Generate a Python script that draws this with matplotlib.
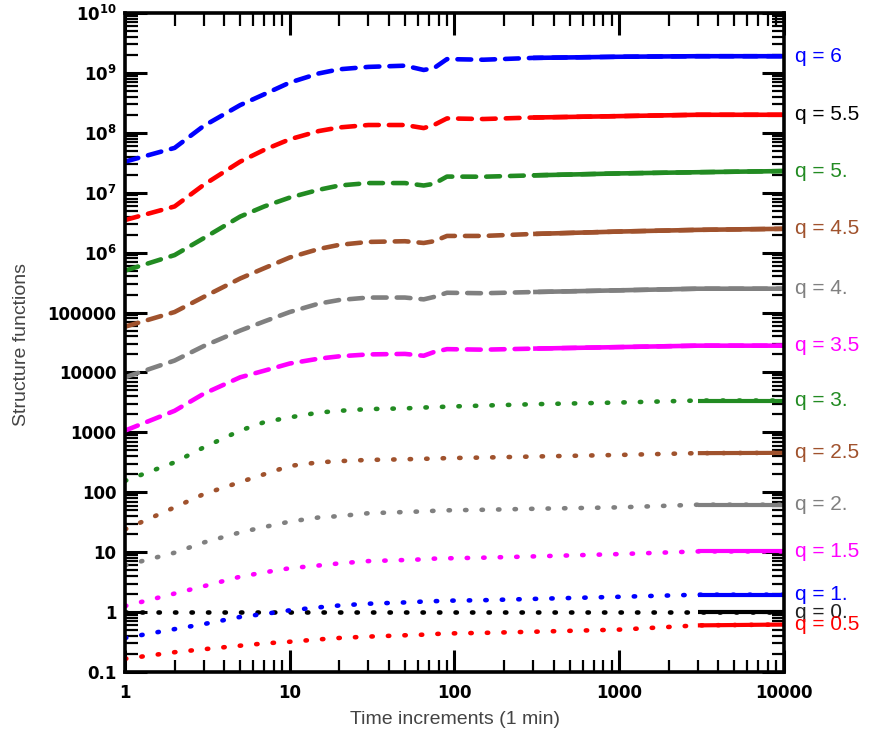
import matplotlib
matplotlib.use("Agg")
import matplotlib.pyplot as plt
import matplotlib.transforms as mtransforms
from matplotlib.ticker import FixedLocator, LogLocator, NullFormatter

lags = [1, 2, 3, 5, 7, 10, 15, 20, 30, 50, 65, 75, 90, 150, 300, 1000, 3000, 10000]

# structure functions, one list per q
s_q6 = [3.3e7, 5.6e7, 1.3e8, 2.9e8, 4.4e8, 6.9e8, 9.8e8, 1.15e9, 1.26e9, 1.32e9,
        1.12e9, 1.2e9, 1.7e9, 1.66e9, 1.78e9, 1.86e9, 1.9e9, 1.9e9]
s_q55 = [3.5e6, 5.9e6, 1.35e7, 3.3e7, 5.2e7, 7.8e7, 1.07e8, 1.23e8, 1.35e8, 1.35e8,
         1.2e8, 1.35e8, 1.74e8, 1.7e8, 1.8e8, 1.9e8, 2.0e8, 2.0e8]
s_q5 = [5.0e5, 9.1e5, 1.74e6, 4.0e6, 5.9e6, 8.3e6, 1.12e7, 1.32e7, 1.45e7, 1.45e7,
        1.32e7, 1.41e7, 1.86e7, 1.85e7, 1.95e7, 2.1e7, 2.2e7, 2.3e7]
s_q45 = [5.8e4, 1.02e5, 1.82e5, 3.7e5, 5.5e5, 8.3e5, 1.15e6, 1.35e6, 1.51e6, 1.55e6,
         1.45e6, 1.55e6, 1.9e6, 1.9e6, 2.05e6, 2.25e6, 2.4e6, 2.5e6]
s_q4 = [8.3e3, 1.58e4, 2.75e4, 5.0e4, 7.1e4, 1.02e5, 1.41e5, 1.62e5, 1.78e5, 1.78e5,
        1.66e5, 1.82e5, 2.14e5, 2.1e5, 2.2e5, 2.35e5, 2.5e5, 2.5e5]
s_q35 = [1070, 2290, 4400, 8300, 1.07e4, 1.41e4, 1.7e4, 1.86e4, 2.0e4, 2.04e4,
         1.9e4, 2.19e4, 2.45e4, 2.4e4, 2.5e4, 2.65e4, 2.8e4, 2.8e4]
s_q3 = [155, 316, 560, 1070, 1480, 1780, 2140, 2290, 2450, 2510,
        2600, 2630, 2690, 2800, 2950, 3150, 3400, 3400]
s_q25 = [24, 56, 93, 148, 200, 275, 316, 331, 347, 355,
         363, 363, 372, 380, 395, 420, 450, 455]
s_q2 = [6.0, 9.8, 14.5, 21.4, 26.3, 32.4, 38, 40, 44.7, 46.8,
        48, 49, 50, 51, 53, 56, 62, 62]
s_q15 = [1.26, 2.04, 2.7, 3.9, 4.6, 5.4, 6.0, 6.5, 7.1, 7.4,
         7.6, 7.8, 7.9, 8.1, 8.5, 9.3, 10.3, 10.3]
s_q1 = [0.37, 0.52, 0.63, 0.83, 0.93, 1.07, 1.2, 1.29, 1.38, 1.45,
        1.5, 1.52, 1.55, 1.58, 1.66, 1.8, 1.95, 1.95]
s_q0 = [1, 1, 1, 1, 1, 1, 1, 1, 1, 1, 1, 1, 1, 1, 1, 1, 1, 1]
s_q05 = [0.166, 0.214, 0.24, 0.275, 0.30, 0.32, 0.35, 0.37, 0.39, 0.41,
         0.42, 0.43, 0.44, 0.45, 0.47, 0.51, 0.6, 0.62]

series = [s_q0, s_q05, s_q1, s_q15, s_q2, s_q25, s_q3,
          s_q35, s_q4, s_q45, s_q5, s_q55, s_q6]
labels = ["q = 0.", "q = 0.5", "q = 1.", "q = 1.5", "q = 2.", "q = 2.5", "q = 3.",
          "q = 3.5", "q = 4.", "q = 4.5", "q = 5.", "q = 5.5", "q = 6"]
colors = ["black", "red", "blue", "magenta", "gray", "sienna", "forestgreen",
          "magenta", "gray", "sienna", "forestgreen", "red", "blue"]
label_colors = ["#222222", "red", "blue", "magenta", "gray", "sienna", "forestgreen",
                "magenta", "gray", "sienna", "forestgreen", "black", "blue"]
dashed = [False] * 7 + [True] * 6

ytick_vals = [0.1, 1, 10, 100, 1000, 1e4, 1e5, 1e6, 1e7, 1e8, 1e9, 1e10]
ytick_text = ["0.1", "1", "10", "100", "1000", "10000", "100000",
              r"$\mathbf{10^{6}}$", r"$\mathbf{10^{7}}$", r"$\mathbf{10^{8}}$",
              r"$\mathbf{10^{9}}$", r"$\mathbf{10^{10}}$"]
xtick_vals = [1, 10, 100, 1000, 10000]
xtick_text = ["1", "10", "100", "1000", "10000"]

plt.rcParams["mathtext.fontset"] = "dejavusans"

fig = plt.figure(figsize=(8.78, 7.36), dpi=100)
ax = fig.add_axes([125 / 878, 64 / 736, 659 / 878, 659 / 736])
ax.set_xscale("log")
ax.set_yscale("log")

for vals, col, dash in zip(series, colors, dashed):
    if dash:
        ax.plot(lags, vals, color=col, lw=3.3, dashes=(3.0, 2.2),
                dash_capstyle="round", solid_capstyle="round")
        # noisy tail looks like a continuous band
        ax.plot(lags[14:], vals[14:], color=col, lw=3.3, solid_capstyle="butt")
    else:
        ax.plot(lags, vals, color=col, lw=3.3, dashes=(0.3, 3.3),
                dash_capstyle="round")
        ax.plot(lags[16:], vals[16:], color=col, lw=3.0, solid_capstyle="butt")

ax.set_xlim(1, 10000)
ax.set_ylim(0.1, 1e10)

# labels on the right, at the last value of each curve
trans = mtransforms.blended_transform_factory(ax.transAxes, ax.transData)
for vals, lab, col in zip(series, labels, label_colors):
    ax.text(1.016, vals[-1], lab, transform=trans, color=col, fontsize=15,
            family="Liberation Sans", ha="left", va="center", clip_on=False)

ax.yaxis.set_major_locator(FixedLocator(ytick_vals))
ax.set_yticklabels(ytick_text)
ax.xaxis.set_major_locator(FixedLocator(xtick_vals))
ax.set_xticklabels(xtick_text)
ax.yaxis.set_minor_locator(LogLocator(base=10, subs=range(2, 10), numticks=30))
ax.xaxis.set_minor_locator(LogLocator(base=10, subs=range(2, 10), numticks=30))
ax.yaxis.set_minor_formatter(NullFormatter())
ax.xaxis.set_minor_formatter(NullFormatter())

ax.tick_params(which="both", direction="in", top=True, right=True)
ax.tick_params(which="major", length=15.5, width=2.2)
ax.tick_params(which="minor", length=9, width=1.6)
ax.tick_params(axis="y", which="major", pad=6)
ax.tick_params(axis="x", which="major", pad=9)
for lab in ax.get_xticklabels() + ax.get_yticklabels():
    lab.set_fontsize(12)
    lab.set_fontweight("bold")
    lab.set_family("DejaVu Sans")

for sp in ax.spines.values():
    sp.set_linewidth(2.6)

fig.text(455 / 878, 1 - 720 / 736, "Time increments (1 min)", ha="center", va="center",
         fontsize=14, family="Liberation Sans", color="#444444")
fig.text(22 / 878, 1 - 345 / 736, "Structure functions", ha="center", va="center",
         rotation=90, fontsize=14, family="Liberation Sans", color="#444444")

fig.savefig("out.png", dpi=100)
